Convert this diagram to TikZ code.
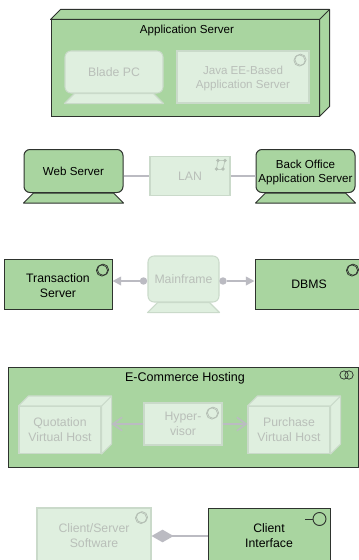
\documentclass[tikz,border=0pt]{standalone}
\usepackage{fontspec}
\setmainfont{Liberation Sans}
\usetikzlibrary{arrows.meta}
\definecolor{grn}{HTML}{A9D5A0}
\definecolor{pale}{HTML}{DFEFDF}
\definecolor{paleedge}{HTML}{CADACA}
\definecolor{paletxt}{HTML}{B9BFB9}
\definecolor{conn}{HTML}{BBBBC2}
\definecolor{dark}{HTML}{2E332E}
\tikzset{
  txt/.style={font=\fontsize{9.2}{11.2}\selectfont, align=center, text=black},
  small/.style={font=\fontsize{8.7}{10.8}\selectfont},
  sized/.style 2 args={minimum width=#1*0.75pt, minimum height=#2*0.75pt, inner sep=0pt},
  solidbox/.style={txt, draw=dark, fill=grn, line width=0.75pt},
  palebox/.style={txt, draw=paleedge, fill=pale, line width=0.8pt, text=paletxt},
  rnd/.style={rounded corners=4.5pt},
  soliddeco/.style={draw=dark, fill=grn, line width=0.75pt, line join=round},
  paledeco/.style={draw=paleedge, fill=pale, line width=0.8pt, line join=round},
  connline/.style={draw=conn, line width=1.3pt},
  dotnode/.style={circle, fill=conn, inner sep=0pt, minimum size=5.6pt},
  filledarrow/.style={connline, -{Stealth[length=6.5pt, width=6.5pt, inset=0pt]}},
  openarrow/.style={connline, line width=1.1pt, -{Straight Barb[length=7pt, width=10pt]}},
  iconsolid/.style={draw=dark, line width=0.55pt},
  iconpale/.style={draw=paleedge!70!gray, line width=0.55pt},
}
\newcommand{\dn}{\rule{0pt}{8.8pt}}
% cube faces behind node #1, depth 10px
\newcommand{\cubeback}[2]{%
  \path[#2] (#1.north west) -- ++(10,-10) -- ([shift={(10,-10)}]#1.north east)
     -- ([shift={(10,-10)}]#1.south east) -- (#1.south east) -- (#1.north east) -- cycle;
  \path[#2, fill=none] (#1.north east) -- ++(10,-10);
}
% device stand below node #1
\newcommand{\stand}[2]{%
  \path[#2] ([xshift=7.5pt]#1.south west) -- ([shift={(0,10)}]#1.south west)
     -- ([shift={(0,10)}]#1.south east) -- ([xshift=-7.5pt]#1.south east) -- cycle;
}
% service/system-software icon
\newcommand{\softicon}[3]{%
  \draw[#3] (#1+1,#2-0.8) circle[radius=5.6];
  \draw[#3] (#1,#2) circle[radius=5.6];
}
\begin{document}
\begin{tikzpicture}[x=0.75pt,y=-0.75pt]
\useasboundingbox (0,0) rectangle (359,560);

% ---- Application Server
\node[solidbox, sized={268}{96}] (appsrv) at (185,68) {};
\cubeback{appsrv}{soliddeco}
\node[txt, small, inner sep=0pt] (appsrvtitle) at (187,31) {Application Server};
\node[palebox, rnd, sized={98}{42}] (blade) at (114,72) {Blade PC};
\stand{blade}{paledeco}
\node[palebox, small, sized={132}{52}] (java) at (243,77) {\dn Java EE-Based\\Application Server};
\softicon{299.5}{60.5}{iconpale}

% ---- Row 2
\node[solidbox, rnd, small, sized={99}{43}] (web) at (73.5,171) {Web Server};
\stand{web}{soliddeco}
\node[palebox, sized={80}{39}] (lan) at (190,176) {LAN};
\node[solidbox, rnd, small, sized={99}{43}] (back) at (305.5,171) {\dn Back Office\\Application Server};
\stand{back}{soliddeco}
\draw[connline] (web.east |- lan.west) -- (lan.west);
\draw[connline] (lan.east) -- (back.west |- lan.east);
% network icon
\foreach \a/\b/\c/\d in {218/160.5/225/160.5, 225/160.5/223/169, 223/169/216.5/169, 216.5/169/218/160.5}
  \draw[paleedge!85!gray, line width=0.6pt] (\a,\b) -- (\c,\d);
\foreach \a/\b in {218/160.5, 225/160.5, 223/169, 216.5/169}
  \fill[paleedge!70!gray] (\a,\b) circle[radius=1.9];

% ---- Row 3
\node[solidbox, sized={108}{50}] (trans) at (58,284) {\dn Transaction\\Server};
\softicon{102}{270.5}{iconsolid}
\node[palebox, rnd, sized={71}{46}] (main) at (183.5,279) {Mainframe};
\stand{main}{paledeco}
\node[solidbox, sized={108}{50}] (dbms) at (309,284) {DBMS};
\softicon{352}{270.5}{iconsolid}
\node[dotnode] (dl) at (143.5,281) {};
\node[dotnode] (dr) at (223,281) {};
\draw[filledarrow] (dl) -- (trans.east |- dl);
\draw[filledarrow] (dr) -- (dbms.west |- dr);

% ---- E-Commerce Hosting
\node[solidbox, sized={350}{100}] (ecom) at (183,417) {};
\node[txt, inner sep=0pt, font=\fontsize{9.4}{11}\selectfont] (ecomtitle) at (185,378) {E-Commerce Hosting};
\draw[iconsolid] (344,375) circle[radius=4.2];
\draw[iconsolid] (349,375) circle[radius=4.2];
\node[palebox, sized={82}{47}] (quot) at (60,430) {Quotation\\Virtual Host};
\cubeback{quot}{paledeco}
\node[palebox, sized={78}{42}] (hyper) at (183,424) {Hyper-\\visor};
\softicon{212}{413.5}{iconpale}
\node[palebox, sized={82}{47}] (purch) at (289,430) {Purchase\\Virtual Host};
\cubeback{purch}{paledeco}
\coordinate (qright) at (111.5,424);
\draw[openarrow] (hyper.west) -- (qright);
\draw[openarrow] (hyper.east) -- (purch.west |- hyper.east);

% ---- Bottom row
\node[palebox, sized={114}{56}] (cs) at (94,536) {Client/Server\\Software};
\softicon{141}{518}{iconpale}
\node[solidbox, sized={122}{56}] (ci) at (269,536) {Client\\Interface};
\draw[iconsolid, line width=0.7pt] (319.5,519) circle[radius=6.5];
\draw[iconsolid, line width=0.7pt] (305,519) -- (313,519);
\draw[connline, -{Diamond[length=16.5pt, width=9.5pt]}] (ci.west |- 0,536) -- (cs.east |- 0,536);
\end{tikzpicture}
\end{document}
